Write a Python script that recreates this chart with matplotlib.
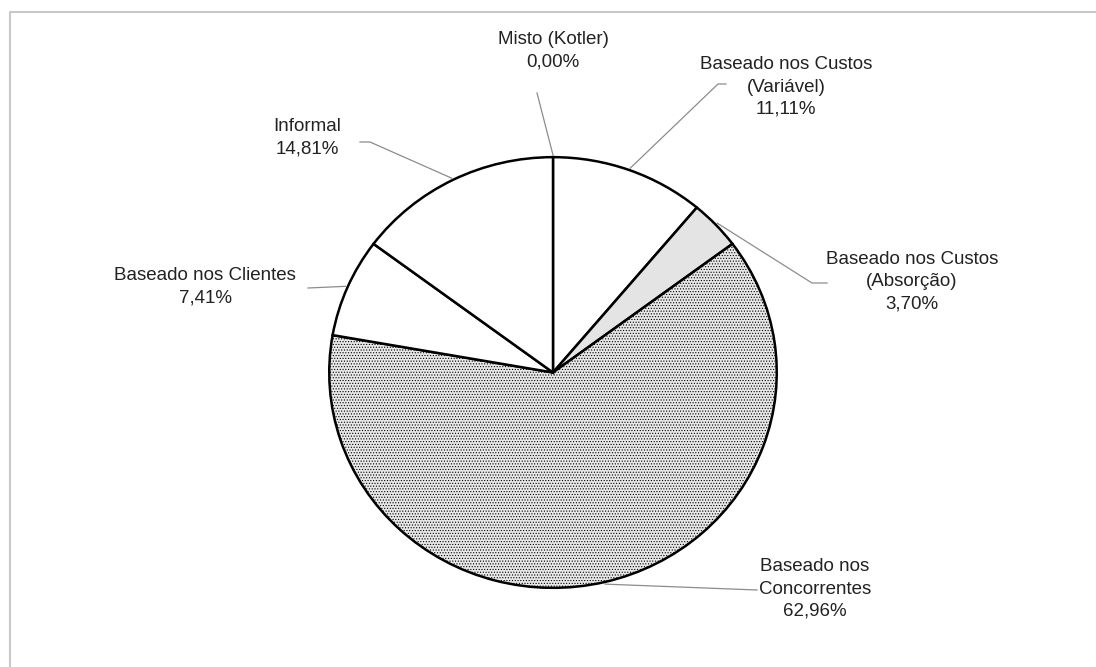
import matplotlib.pyplot as plt
import numpy as np

plt.rcParams['font.family'] = ['Liberation Sans', 'DejaVu Sans']

# data
labels = ["Misto (Kotler)", "Baseado nos Custos\n(Variável)", "Baseado nos Custos\n(Absorção)",
          "Baseado nos\nConcorrentes", "Baseado nos Clientes", "Informal"]
values = [0.00, 11.11, 3.70, 62.96, 7.41, 14.81]
colors = ["white", "white", "#e4e4e4", "#e8e8e8", "white", "white"]
hatches = [None, None, None, "......", None, None]

# layout (pixels): label centre and leader elbow points
label_xy = [(553, 51), (786, 87), (912, 282), (815, 589), (205, 287), (307, 138)]
leader_pts = [[(537, 93)],
              [(718, 84), (726, 84)],
              [(812, 283), (827, 283)],
              [(757, 590)],
              [(308, 288)],
              [(370, 142), (360, 142)]]

W, H = 1096, 667
cx, cy, rx, ry = 553, 372.5, 226, 217.5

fig = plt.figure(figsize=(W / 100, H / 100), dpi=100)
ov = fig.add_axes([0, 0, 1, 1])
ov.set_xlim(0, W)
ov.set_ylim(H, 0)
ov.axis('off')

# frame
ov.plot([10, 10, W], [H, 12, 12], color='#c8c8c8', lw=1.5)

pax = fig.add_axes([(cx - rx) / W, (H - cy - ry) / H, 2 * rx / W, 2 * ry / H])
plt.rcParams['hatch.color'] = '#c4c4c4'
plt.rcParams['hatch.linewidth'] = 0.5
wedges, _ = pax.pie(values, colors=colors, startangle=90, counterclock=False, radius=1,
                    wedgeprops=dict(edgecolor='black', linewidth=1.8))
for w, h in zip(wedges, hatches):
    if h:
        w.set_hatch(h)
pax.set_xlim(-1.01, 1.01)
pax.set_ylim(-1.01, 1.01)
pax.set_aspect('auto')
pax.axis('off')

for w, lab, v, (tx, ty), pts in zip(wedges, labels, values, label_xy, leader_pts):
    ang = np.deg2rad((w.theta1 + w.theta2) / 2)
    sx = cx + rx * np.cos(ang)
    sy = cy - ry * np.sin(ang)
    xs = [sx] + [p[0] for p in pts]
    ys = [sy] + [p[1] for p in pts]
    ov.plot(xs, ys, color='#8c8c8c', lw=0.9, zorder=1)
    txt = lab + "\n" + ("%.2f%%" % v).replace('.', ',')
    ov.text(tx, ty, txt, ha='center', va='center', fontsize=13.5, color='#222222',
            linespacing=1.4)

fig.savefig("out.png", dpi=100)
